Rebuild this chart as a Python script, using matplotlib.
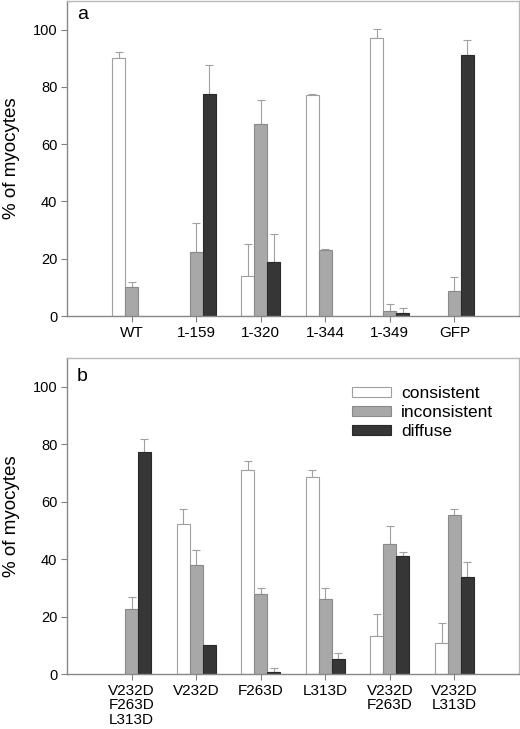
import matplotlib
matplotlib.use("Agg")
import matplotlib.pyplot as plt
import numpy as np

plt.rcParams['font.family'] = ['Liberation Sans', 'DejaVu Sans']

# Panel a data
cats_a = ["WT", "1-159", "1-320", "1-344", "1-349", "GFP"]
cons_a = [90.1, 0, 13.9, 77.1, 97.1, 0]
cons_a_err = [2.0, 0, 11.4, 0.4, 3.0, 0]
inc_a = [10.0, 22.4, 67.1, 22.9, 1.6, 8.7]
inc_a_err = [2.0, 10.2, 8.4, 0.5, 2.5, 4.8]
dif_a = [0, 77.4, 18.7, 0, 0.9, 91.3]
dif_a_err = [0, 10.4, 10.1, 0, 1.8, 5.1]

# Panel b data
cats_b = ["V232D\nF263D\nL313D", "V232D", "F263D", "L313D", "V232D\nF263D", "V232D\nL313D"]
cons_b = [0, 52.1, 71.1, 68.5, 13.3, 10.7]
cons_b_err = [0, 5.3, 3.1, 2.6, 7.5, 6.9]
inc_b = [22.7, 37.8, 28.0, 26.2, 45.2, 55.2]
inc_b_err = [4.2, 5.5, 2.0, 3.8, 6.4, 2.2]
dif_b = [77.3, 10.0, 0.7, 5.2, 41.2, 33.9]
dif_b_err = [4.4, 0, 1.3, 2.0, 1.4, 5.2]

series_labels = ["consistent", "inconsistent", "diffuse"]
face = ["#ffffff", "#a8a8a8", "#363636"]
edge = ["#a0a0a0", "#8a8a8a", "#2a2a2a"]
ecol = "#a0a0a0"

fig = plt.figure(figsize=(5.2, 7.29), dpi=100)
ax_a = fig.add_axes([67/520, 1-316/729, (519-67)/520, (316-1)/729])
ax_b = fig.add_axes([67/520, 1-674/729, (519-67)/520, (674-358)/729])

w = 0.2

def draw(ax, cats, vals, errs, letter, letter_y, legend=False):
    x = np.arange(len(cats))
    offs = [-w, 0, w]
    for k in range(3):
        v = np.array(vals[k], dtype=float)
        e = np.array(errs[k], dtype=float)
        mask = v > 0
        ax.bar(x[mask] + offs[k], v[mask], width=w, color=face[k], edgecolor=edge[k],
               linewidth=0.8, label=series_labels[k], zorder=2)
        em = mask & (e > 0)
        ax.errorbar(x[em] + offs[k], v[em], yerr=[np.zeros(em.sum()), e[em]],
                    fmt="none", ecolor=ecol, elinewidth=0.8, capsize=3, capthick=0.8, zorder=1)
    ax.set_xlim(-1, 6)
    ax.set_ylim(0, 110)
    ax.set_yticks([0, 20, 40, 60, 80, 100])
    ax.set_xticks(x)
    ax.set_xticklabels(cats, fontsize=11, linespacing=1.05)
    ax.tick_params(axis='y', labelsize=10.5, length=4, color="#808080", width=0.8, pad=3)
    ax.tick_params(axis='x', length=4, color="#808080", width=0.8, pad=3)
    for s in ["left", "bottom"]:
        ax.spines[s].set_color("#888888")
        ax.spines[s].set_linewidth(1.0)
    for s in ["top", "right"]:
        ax.spines[s].set_color("#b8b8b8")
        ax.spines[s].set_linewidth(1.0)
    ax.set_ylabel("% of myocytes", fontsize=13.5, labelpad=9)
    ax.text(0.022, letter_y, letter, transform=ax.transAxes, fontsize=14, va="top", ha="left")
    if legend:
        ax.legend(loc="upper left", bbox_to_anchor=(0.63, 0.912), frameon=False, fontsize=12.5,
                  borderpad=0, borderaxespad=0,
                  handlelength=2.25, handleheight=0.5, handletextpad=0.6, labelspacing=0.25)

draw(ax_a, cats_a, [cons_a, inc_a, dif_a], [cons_a_err, inc_a_err, dif_a_err], "a", 0.985)
draw(ax_b, cats_b, [cons_b, inc_b, dif_b], [cons_b_err, inc_b_err, dif_b_err], "b", 0.968, legend=True)

fig.savefig("out.png", dpi=100)
